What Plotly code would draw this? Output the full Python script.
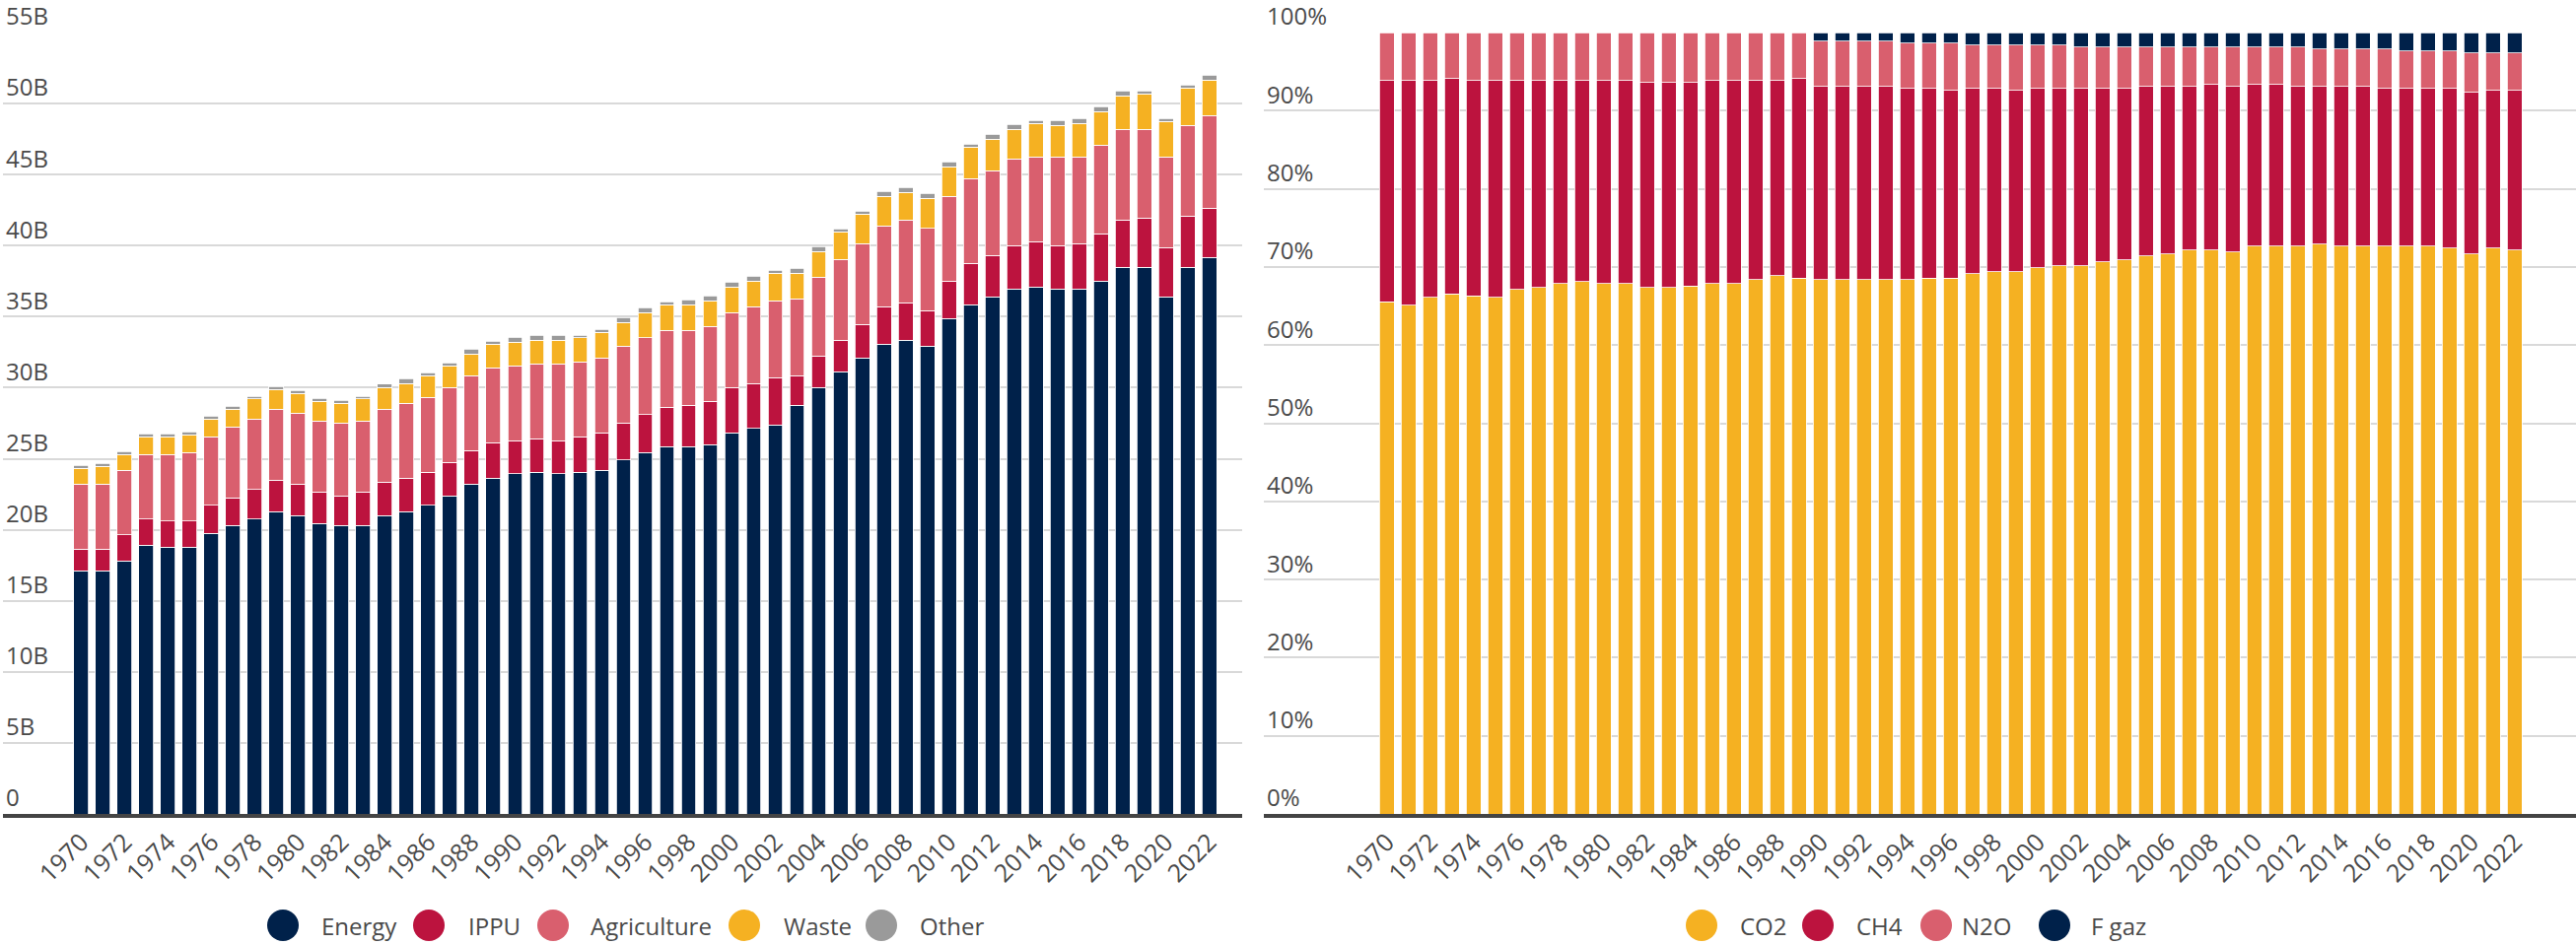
import plotly.graph_objects as go

years = list(range(1970, 2023))

# Left chart: emissions by sector (billions of tonnes CO2e), stacked
energy = [17.13, 17.13, 17.82, 18.93, 18.79, 18.79, 19.76, 20.32, 20.74, 21.29,
          21.01, 20.46, 20.32, 20.32, 21.01, 21.29, 21.71, 22.40, 23.23, 23.65,
          23.93, 24.06, 23.93, 24.06, 24.20, 24.90, 25.45, 25.87, 25.87, 26.00,
          26.84, 27.12, 27.39, 28.78, 30.03, 31.14, 32.10, 33.08, 33.36, 32.94,
          34.88, 35.85, 36.41, 36.96, 37.10, 36.96, 36.96, 37.52, 38.49, 38.49,
          36.41, 38.49, 39.18]
ippu = [1.52, 1.52, 1.81, 1.81, 1.81, 1.81, 1.95, 1.94, 2.08, 2.22,
        2.22, 2.22, 2.08, 2.36, 2.36, 2.36, 2.35, 2.36, 2.36, 2.49,
        2.35, 2.36, 2.35, 2.50, 2.64, 2.63, 2.64, 2.77, 2.91, 3.06,
        3.19, 3.18, 3.33, 2.08, 2.22, 2.22, 2.37, 2.63, 2.63, 2.50,
        2.64, 2.92, 2.91, 3.05, 3.19, 3.05, 3.19, 3.33, 3.33, 3.47,
        3.47, 3.60, 3.47]
agriculture = [4.58, 4.58, 4.57, 4.57, 4.71, 4.85, 4.85, 4.99, 4.99, 4.99,
               4.99, 4.99, 5.13, 4.99, 5.13, 5.27, 5.27, 5.27, 5.27, 5.27,
               5.27, 5.27, 5.41, 5.27, 5.26, 5.41, 5.41, 5.41, 5.27, 5.27,
               5.27, 5.41, 5.41, 5.41, 5.54, 5.68, 5.68, 5.69, 5.83, 5.79,
               5.96, 5.96, 5.96, 6.11, 5.96, 6.24, 6.10, 6.24, 6.38, 6.24,
               6.37, 6.38, 6.52]
waste = [1.11, 1.25, 1.11, 1.25, 1.25, 1.25, 1.25, 1.25, 1.39, 1.39,
         1.39, 1.39, 1.39, 1.53, 1.53, 1.38, 1.53, 1.52, 1.53, 1.67,
         1.67, 1.67, 1.67, 1.67, 1.81, 1.66, 1.80, 1.80, 1.80, 1.80,
         1.80, 1.81, 1.94, 1.80, 1.81, 1.94, 2.08, 2.08, 1.94, 2.11,
         2.08, 2.22, 2.22, 2.08, 2.36, 2.22, 2.36, 2.36, 2.35, 2.49,
         2.50, 2.64, 2.49]
other = [0.21, 0.21, 0.21, 0.21, 0.21, 0.20, 0.21, 0.19, 0.20, 0.19,
         0.19, 0.18, 0.21, 0.20, 0.21, 0.35, 0.21, 0.21, 0.32, 0.21,
         0.34, 0.34, 0.34, 0.20, 0.21, 0.35, 0.34, 0.21, 0.35, 0.35,
         0.35, 0.34, 0.21, 0.35, 0.34, 0.21, 0.21, 0.35, 0.34, 0.35,
         0.35, 0.21, 0.35, 0.34, 0.21, 0.35, 0.35, 0.34, 0.35, 0.21,
         0.21, 0.21, 0.35]

# Right chart: share by gas (%)
co2 = [65.57, 65.07, 66.08, 66.58, 66.33, 66.08, 67.09, 67.34, 67.85, 68.10,
       67.85, 67.85, 67.34, 67.34, 67.59, 67.85, 67.85, 68.35, 68.86, 68.60,
       68.35, 68.35, 68.35, 68.35, 68.35, 68.60, 68.60, 69.11, 69.36, 69.36,
       69.87, 70.12, 70.12, 70.62, 70.88, 71.38, 71.63, 72.14, 72.14, 71.89,
       72.64, 72.64, 72.64, 72.90, 72.64, 72.64, 72.64, 72.64, 72.64, 72.39,
       71.63, 72.39, 72.14]
ch4 = [28.29, 28.79, 27.78, 27.53, 27.53, 27.78, 26.77, 26.52, 26.01, 25.76,
       26.01, 26.01, 26.26, 26.26, 26.01, 26.01, 26.01, 25.51, 25.00, 25.51,
       24.75, 24.75, 24.75, 24.75, 24.50, 24.25, 23.99, 23.74, 23.49, 23.23,
       22.98, 22.73, 22.73, 22.23, 21.97, 21.72, 21.47, 20.96, 21.21, 21.21,
       20.71, 20.71, 20.46, 20.20, 20.46, 20.46, 20.21, 20.21, 20.21, 20.46,
       20.71, 20.20, 20.45]
n2o = [6.14, 6.14, 6.14, 5.89, 6.14, 6.14, 6.14, 6.14, 6.14, 6.14,
       6.14, 6.14, 6.40, 6.40, 6.40, 6.14, 6.14, 6.14, 6.14, 5.89,
       5.81, 5.81, 5.81, 5.81, 5.80, 5.80, 6.06, 5.55, 5.55, 5.81,
       5.55, 5.55, 5.30, 5.30, 5.30, 5.05, 5.05, 5.05, 4.80, 5.05,
       4.80, 4.80, 5.05, 4.80, 4.80, 4.80, 5.05, 4.79, 4.79, 4.79,
       5.05, 4.80, 4.80]
fgaz = [None] * 20 + [1.09, 1.09, 1.09, 1.09, 1.35, 1.35, 1.35, 1.60, 1.60, 1.60,
                      1.60, 1.60, 1.85, 1.85, 1.85, 1.85, 1.85, 1.85, 1.85, 1.85,
                      1.85, 1.85, 1.85, 2.10, 2.10, 2.10, 2.10, 2.36, 2.36, 2.36,
                      2.61, 2.61, 2.61]

left_ticks = list(range(0, 56, 5))
left_ticktext = ["0"] + [f"{v}B" for v in left_ticks[1:]]
right_ticks = list(range(0, 101, 10))
right_ticktext = [f"{v}%" for v in right_ticks]
x_ticks = years[::2]

NAVY = "#00214a"
CRIMSON = "#bc133e"
PINK = "#d95f6e"
GOLD = "#f5b122"
GREY = "#9a9a9a"

W, H = 2613, 959
FONT = "Open Sans"
TXT = "#4a4a4a"

fig = go.Figure()

left_series = [("Energy", energy, NAVY), ("IPPU", ippu, CRIMSON),
               ("Agriculture", agriculture, PINK), ("Waste", waste, GOLD),
               ("Other", other, GREY)]
for name, vals, col in left_series:
    fig.add_trace(go.Bar(x=years, y=vals, name=name, marker_color=col,
                         marker_line_color="white", marker_line_width=0.8,
                         xaxis="x", yaxis="y", showlegend=False))

right_series = [("CO2", co2, GOLD), ("CH4", ch4, CRIMSON),
                ("N2O", n2o, PINK), ("F gaz", fgaz, NAVY)]
for name, vals, col in right_series:
    fig.add_trace(go.Bar(x=years, y=vals, name=name, marker_color=col,
                         marker_line_color="white", marker_line_width=0.8,
                         xaxis="x2", yaxis="y2", showlegend=False))

ydom = [133 / H, 926 / H]
common_x = dict(tickvals=x_ticks, tickangle=-45,
                tickfont=dict(family=FONT, size=25, color=TXT),
                showline=True, linecolor="#444444", linewidth=4,
                ticks="", showgrid=False, zeroline=False, fixedrange=True,
                automargin=False)
common_y = dict(ticklabelposition="inside", ticklabelshift=-16,
                ticklabeloverflow="allow", ticks="",
                tickfont=dict(family=FONT, size=24, color=TXT),
                gridcolor="#d9d9d9", gridwidth=2, zeroline=False,
                showline=False, domain=ydom, automargin=False)

fig.update_layout(
    width=W, height=H,
    margin=dict(l=0, r=0, t=0, b=0, autoexpand=False),
    paper_bgcolor="white", plot_bgcolor="rgba(0,0,0,0)",
    barmode="stack", bargap=0.32,
    font=dict(family=FONT, color=TXT),
    showlegend=False,
    xaxis=dict(domain=[3 / W, 1260 / W], range=[1966.39, 2023.52], anchor="y", **common_x),
    xaxis2=dict(domain=[1282 / W, 1.0], range=[1964.32, 2024.82], anchor="y2", **common_x),
    yaxis=dict(range=[0, 55], tickvals=left_ticks, ticktext=left_ticktext, anchor="x", **common_y),
    yaxis2=dict(range=[0, 100], tickvals=right_ticks, ticktext=right_ticktext, anchor="x2", **common_y),
)

# Custom legends with large circular markers
legend_y = (H - 939) / H
left_legend = [("Energy", NAVY, 287, 324), ("IPPU", CRIMSON, 435, 473),
               ("Agriculture", PINK, 561, 597), ("Waste", GOLD, 755, 793),
               ("Other", GREY, 894, 931)]
right_legend = [("CO2", GOLD, 1726, 1763), ("CH4", CRIMSON, 1844, 1881),
                ("N2O", PINK, 1964, 1988), ("F gaz", NAVY, 2084, 2119)]
shapes = []
annotations = []
for label, col, cx, tx in left_legend + right_legend:
    shapes.append(dict(type="circle", xref="paper", yref="paper",
                       xsizemode="pixel", ysizemode="pixel",
                       xanchor=cx / W, yanchor=legend_y,
                       x0=-16, x1=16, y0=-16, y1=16,
                       fillcolor=col, line=dict(width=0)))
    annotations.append(dict(text=label, xref="paper", yref="paper",
                            x=tx / W, y=legend_y, xanchor="left", yanchor="middle",
                            showarrow=False, font=dict(family=FONT, size=24, color=TXT)))
fig.update_layout(shapes=shapes, annotations=annotations)

fig.write_html(
    "out.html",
    config={"displayModeBar": False},
    post_script="document.body.style.margin='0px';document.body.style.overflow='hidden';",
)
